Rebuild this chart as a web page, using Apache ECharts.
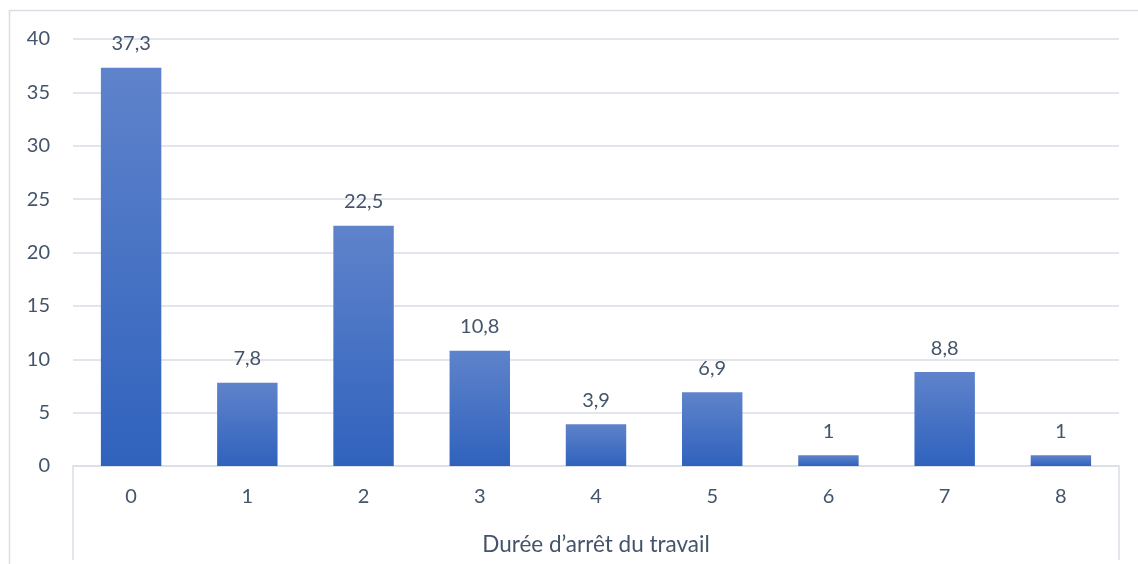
<!DOCTYPE html>
<html>
<head>
<meta charset="utf-8">
<script src="https://cdn.jsdelivr.net/npm/echarts@6/dist/echarts.min.js"></script>
<style>
  html, body {margin: 0; padding: 0; background: #fff;}
  #chart {width: 1138px; height: 564px;}
</style>
</head>
<body>
<div id="chart"></div>
<script>
// durée d'arrêt (catégories) et pourcentages
const categories = ['0', '1', '2', '3', '4', '5', '6', '7', '8'];
const values = [37.3, 7.8, 22.5, 10.8, 3.9, 6.9, 1, 8.8, 1];
const axisTitle = 'Durée d’arrêt du travail';

const textColor = '#44546a';
const lineColor = '#d9dde5';
const fontFamily = 'Lato, "Open Sans", sans-serif';

const chart = echarts.init(document.getElementById('chart'), null, {renderer: 'canvas'});

const option = {
    backgroundColor: '#fff',
    animation: false,
    grid: {left: 73, right: 19, top: 39, bottom: 98},
    xAxis: {
        type: 'category',
        data: categories,
        name: axisTitle,
        nameLocation: 'middle',
        nameGap: 67,
        nameTextStyle: {color: textColor, fontSize: 22.5, fontFamily: fontFamily},
        axisLine: {lineStyle: {color: lineColor, width: 1.5}},
        axisTick: {show: false},
        axisLabel: {color: textColor, fontSize: 20, fontFamily: fontFamily, margin: 21}
    },
    yAxis: {
        type: 'value',
        min: 0, max: 40, interval: 5,
        axisLine: {show: false},
        axisTick: {show: false},
        axisLabel: {color: textColor, fontSize: 20, fontFamily: fontFamily, margin: 23},
        splitLine: {lineStyle: {color: lineColor, width: 1.5}}
    },
    series: [{
        type: 'bar',
        data: values,
        barWidth: '52%',
        itemStyle: {
            color: new echarts.graphic.LinearGradient(0, 0, 0, 1, [
                {offset: 0, color: '#5f83cb'},
                {offset: 1, color: '#3062bd'}
            ])
        },
        label: {
            show: true,
            position: 'top',
            distance: 14,
            color: textColor,
            fontSize: 20,
            fontFamily: fontFamily,
            formatter: p => String(p.value).replace('.', ',')
        }
    }]
};
chart.setOption(option);

// cadre du graphique et boîte de l'axe des catégories
const left = 73, right = 1138 - 19, axisY = chart.convertToPixel({gridIndex: 0}, [0, 0])[1];
chart.setOption({
    graphic: [
        {type: 'rect', shape: {x: 9.5, y: 10.5, width: 1200, height: 600},
         style: {fill: null, stroke: lineColor, lineWidth: 1.5}, silent: true},
        {type: 'line', shape: {x1: left, y1: axisY, x2: left, y2: 560},
         style: {stroke: lineColor, lineWidth: 1.5}, silent: true},
        {type: 'line', shape: {x1: right, y1: axisY, x2: right, y2: 560},
         style: {stroke: lineColor, lineWidth: 1.5}, silent: true}
    ]
});
</script>
</body>
</html>
